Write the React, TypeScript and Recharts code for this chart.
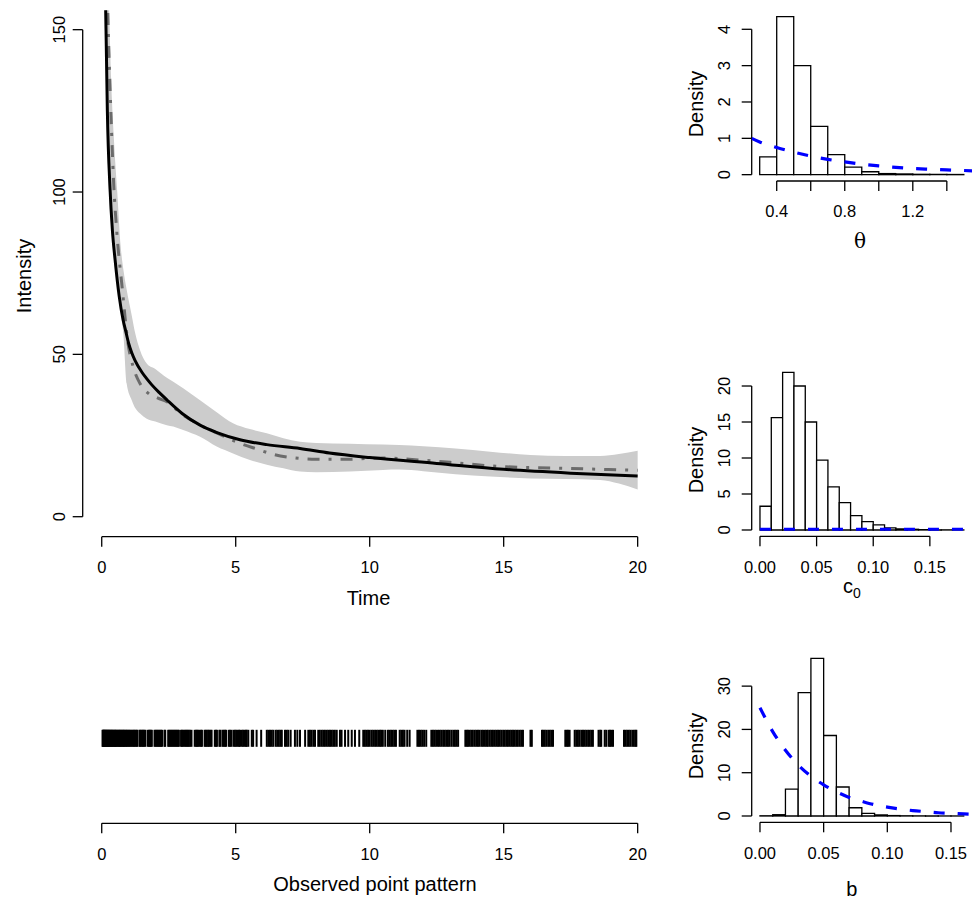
import React from 'react';
import { ComposedChart, Area, Line, Scatter, XAxis, YAxis, ReferenceLine, ReferenceArea } from 'recharts';

const FONT = '"Liberation Sans", Arial, Helvetica, sans-serif';
const TICK_FONT = 16.5;
const TITLE_FONT = 20;

// intensity: posterior band
const bandTime = [0.05, 0.1, 0.15, 0.2, 0.27, 0.35, 0.45, 0.58, 0.71, 0.81, 0.93, 1.12, 1.25, 1.43, 1.68, 2.0, 2.43, 2.67, 3.04, 3.67, 4.29, 4.9, 5.53, 6.16, 6.78, 7.4, 8.0, 9.26, 10.5, 11.1, 12.0, 13.2, 14.5, 16.0, 17.3, 18.6, 19.3, 20.0];
const bandLower = [240, 165, 138, 118, 100, 90, 80, 71, 63, 56, 41, 35.9, 33.5, 31.8, 30.2, 29.3, 28.2, 27.8, 26.7, 24.6, 21.6, 19.5, 17.5, 16.0, 14.9, 13.9, 13.7, 13.9, 14.4, 14.5, 14.0, 13.1, 12.4, 11.8, 11.6, 11.3, 10.2, 8.4];
const bandUpper = [420, 290, 210, 178, 158, 135, 117, 100, 83, 76, 70, 62, 56.5, 51.3, 47.2, 45.5, 42.8, 41.6, 39.6, 35.9, 32.2, 28.8, 27.0, 25.7, 24.2, 23.1, 22.7, 22.5, 22.2, 22.1, 21.7, 21.0, 20.0, 19.0, 18.7, 18.7, 19.3, 20.3];

// intensity: solid black curve
const fitTime = [0.05, 0.1, 0.16, 0.21, 0.31, 0.4, 0.5, 0.65, 0.8, 0.9, 1.0, 1.12, 1.25, 1.5, 1.7, 1.87, 2.15, 2.43, 3.0, 3.67, 4.3, 5.16, 6.16, 7.4, 8.5, 10, 12.5, 15, 17.5, 20];
const fitValue = [290, 190, 150, 125, 101, 88, 79, 68, 60.5, 57, 53.5, 50.5, 48, 44.5, 42.3, 40.6, 38.2, 36, 31.8, 28.2, 25.9, 23.7, 22.2, 21.0, 19.6, 18.2, 16.4, 14.6, 13.4, 12.5];

// intensity: grey dot-dash curve
const estTime = [0.1, 0.15, 0.2, 0.25, 0.3, 0.37, 0.45, 0.56, 0.77, 0.97, 1.18, 1.43, 1.74, 2.1, 2.43, 3.0, 3.5, 4.29, 5.16, 5.8, 6.4, 7.2, 8.0, 9.26, 10.0, 10.5, 11.8, 13.2, 14.6, 16.0, 17.3, 18.6, 20.0];
const estValue = [230, 190, 165, 148, 135, 118, 102, 88, 70, 54, 46, 41, 38, 36.5, 35.4, 31.5, 29, 25.8, 22.6, 20.8, 19.2, 18.1, 17.7, 17.7, 18.0, 18.1, 17.5, 16.6, 15.6, 15.1, 14.9, 14.6, 14.3];

const timeTicks = [0, 5, 10, 15, 20];
const intensityTicks = [0, 50, 100, 150];

// observed event times
const rugTimes = [
  0.03, 0.05, 0.07, 0.09, 0.11, 0.13, 0.15, 0.17, 0.2, 0.22, 0.24, 0.27, 0.29, 0.32, 0.34, 0.37, 0.39, 0.42, 0.45, 0.48,
  0.5, 0.53, 0.56, 0.59, 0.62, 0.65, 0.68, 0.71, 0.74, 0.77, 0.8, 0.83, 0.86, 0.9, 0.93, 0.96, 1.0, 1.03, 1.07, 1.11,
  1.15, 1.19, 1.22, 1.26, 1.3, 1.33, 1.41, 1.44, 1.48, 1.52, 1.55, 1.59, 1.63, 1.72, 1.76, 1.8, 1.83, 1.87, 1.97, 2.01,
  2.05, 2.09, 2.13, 2.17, 2.21, 2.25, 2.34, 2.37, 2.48, 2.52, 2.56, 2.6, 2.64, 2.68, 2.72, 2.76, 2.8, 2.84, 2.88, 2.96,
  3.0, 3.04, 3.09, 3.13, 3.17, 3.21, 3.25, 3.3, 3.35, 3.47, 3.52, 3.56, 3.6, 3.65, 3.7, 3.74, 3.84, 3.88, 3.92, 3.97,
  4.01, 4.06, 4.1, 4.22, 4.26, 4.3, 4.39, 4.43, 4.51, 4.55, 4.6, 4.64, 4.74, 4.79, 4.84, 4.92, 4.97, 5.02, 5.07, 5.12,
  5.16, 5.23, 5.28, 5.33, 5.38, 5.41, 5.47, 5.6, 5.65, 5.78, 5.95, 6.16, 6.22, 6.28, 6.34, 6.4, 6.49, 6.55, 6.61, 6.67,
  6.72, 6.84, 6.9, 6.96, 7.05, 7.21, 7.3, 7.4, 7.59, 7.71, 7.77, 7.83, 7.9, 7.96, 8.08, 8.14, 8.21, 8.27, 8.33, 8.4,
  8.46, 8.52, 8.58, 8.64, 8.7, 8.77, 8.89, 8.95, 9.08, 9.2, 9.33, 9.45, 9.61, 9.76, 9.82, 9.88, 9.94, 10.0, 10.07, 10.13,
  10.2, 10.26, 10.32, 10.38, 10.43, 10.49, 10.58, 10.68, 10.74, 10.8, 10.86, 10.92, 10.98, 11.12, 11.18, 11.24, 11.3, 11.4, 11.49, 11.78,
  11.84, 11.9, 11.96, 12.03, 12.11, 12.3, 12.36, 12.42, 12.48, 12.55, 12.61, 12.67, 12.74, 12.8, 12.86, 12.92, 12.98, 13.05, 13.12, 13.18,
  13.24, 13.3, 13.57, 13.62, 13.67, 13.73, 13.79, 13.85, 13.92, 13.98, 14.04, 14.1, 14.17, 14.23, 14.3, 14.36, 14.41, 14.48, 14.54, 14.6,
  14.67, 14.73, 14.79, 14.85, 14.91, 14.98, 15.04, 15.1, 15.16, 15.23, 15.29, 15.35, 15.41, 15.47, 15.53, 15.6, 15.66, 15.72, 16.0, 16.05,
  16.43, 16.48, 16.53, 16.59, 16.66, 16.72, 16.78, 16.84, 17.3, 17.35, 17.4, 17.46, 17.65, 17.71, 17.77, 17.83, 17.9, 17.96, 18.02, 18.08,
  18.15, 18.21, 18.27, 18.33, 18.54, 18.6, 18.64, 18.77, 18.83, 18.92, 18.97, 19.02, 19.08, 19.49, 19.55, 19.61, 19.67, 19.73, 19.8, 19.86,
  19.92, 19.95,
];

// theta posterior histogram (bin breaks, densities) and prior
const thetaBreaks = [0.3, 0.4, 0.5, 0.6, 0.7, 0.8, 0.9, 1.0, 1.1, 1.2, 1.3, 1.4, 1.5];
const thetaDensity = [0.49, 4.35, 3.0, 1.33, 0.55, 0.21, 0.08, 0.03, 0.02, 0.01, 0.01, 0.005];
const thetaPriorX = [0.253, 0.3, 0.4, 0.5, 0.6, 0.7, 0.8, 0.9, 1.0, 1.1, 1.2, 1.3, 1.4, 1.5, 1.56];
const thetaPriorY = [1.0, 0.9, 0.75, 0.62, 0.51, 0.42, 0.35, 0.29, 0.24, 0.2, 0.17, 0.15, 0.13, 0.115, 0.105];
const thetaTicks = [0.4, 0.6, 0.8, 1.0, 1.2, 1.4];
const thetaTickLabels = ['0.4', '', '0.8', '', '1.2', ''];
const thetaYTicks = [0, 1, 2, 3, 4];

// c0 posterior histogram and prior
const c0Breaks = [0, 0.01, 0.02, 0.03, 0.04, 0.05, 0.06, 0.07, 0.08, 0.09, 0.1, 0.11, 0.12, 0.13, 0.14, 0.15, 0.16, 0.17, 0.18];
const c0Density = [3.3, 15.6, 21.9, 20.0, 15.0, 9.7, 6.0, 3.8, 2.0, 1.15, 0.7, 0.3, 0.15, 0.1, 0.05, 0.03, 0.02, 0.01];
const c0PriorX = [0, 0.02, 0.04, 0.06, 0.08, 0.1, 0.12, 0.14, 0.16, 0.18, 0.19];
const c0PriorY = [0.1, 0.1, 0.1, 0.1, 0.1, 0.1, 0.1, 0.1, 0.1, 0.1, 0.1];
const c0Ticks = [0, 0.05, 0.1, 0.15];
const c0YTicks = [0, 5, 10, 15, 20];

// b posterior histogram and prior
const bBreaks = [0, 0.01, 0.02, 0.03, 0.04, 0.05, 0.06, 0.07, 0.08, 0.09, 0.1, 0.11, 0.12, 0.13, 0.14, 0.15, 0.16];
const bDensity = [0.05, 0.3, 6.2, 28.5, 36.4, 18.6, 6.7, 1.9, 0.6, 0.25, 0.1, 0.05, 0.03, 0.02, 0.01, 0.01];
const bPriorX = [0, 0.01, 0.02, 0.03, 0.04, 0.05, 0.06, 0.07, 0.08, 0.09, 0.1, 0.11, 0.12, 0.13, 0.14, 0.15, 0.16, 0.17];
const bPriorY = [25, 19.5, 15.2, 11.8, 9.2, 7.2, 5.6, 4.3, 3.4, 2.6, 2.05, 1.6, 1.25, 1.0, 0.75, 0.6, 0.47, 0.37];
const bTicks = [0, 0.05, 0.1, 0.15];
const bYTicks = [0, 10, 20, 30];

const zip = (xs: number[], ys: number[]) => xs.map((x, i) => ({ x, y: ys[i] }));

const axisLine = { stroke: '#000', strokeWidth: 1.3 };
const tickText = { fill: '#000', fontSize: TICK_FONT, fontFamily: FONT };

// R style: y tick labels are rotated and read bottom to top
const rotatedTick = (shift: number) => (props: any) => {
  const { x, y, payload } = props;
  const bx = x - shift;
  return (
    <text x={bx} y={y} transform={`rotate(-90 ${bx} ${y})`} textAnchor="middle" fontSize={TICK_FONT} fontFamily={FONT} fill="#000">
      {payload.value}
    </text>
  );
};

const RugTick = (props: any) => {
  const { cx, cy } = props;
  return <line x1={cx} x2={cx} y1={cy - 8.5} y2={cy + 8.5} stroke="#000" strokeWidth={2} />;
};

function IntensityPanel() {
  const bandRows = bandTime.map((x, i) => ({ x, band: [bandLower[i], bandUpper[i]] }));
  return (
    <ComposedChart width={680} height={640} margin={{ top: 10.2, right: 20.9, bottom: 43.3, left: 0 }}>
      <XAxis dataKey="x" type="number" domain={[-0.71, 20.8]} allowDataOverflow ticks={timeTicks} interval={0}
        axisLine={false} tickLine={axisLine} tickSize={10} tickMargin={15} tick={tickText} height={60} />
      <YAxis type="number" domain={[-6.16, 156]} allowDataOverflow ticks={intensityTicks} interval={0}
        axisLine={false} tickLine={axisLine} tickSize={10} tickMargin={2} width={82.7} tick={rotatedTick(5.7)} />
      <Area data={bandRows} dataKey="band" type="monotone" fill="#cccccc" fillOpacity={1} stroke="none" isAnimationActive={false} />
      <Line data={zip(estTime, estValue)} dataKey="y" type="monotone" stroke="#6b6b6b" strokeWidth={3}
        strokeDasharray="3 9 12 9" dot={false} isAnimationActive={false} />
      <Line data={zip(fitTime, fitValue)} dataKey="y" type="monotone" stroke="#000" strokeWidth={3}
        dot={false} isAnimationActive={false} />
      <ReferenceLine segment={[{ x: 0, y: -6.16 }, { x: 20, y: -6.16 }]} ifOverflow="visible" {...axisLine} />
      <ReferenceLine segment={[{ x: -0.71, y: 0 }, { x: -0.71, y: 150 }]} ifOverflow="visible" {...axisLine} />
    </ComposedChart>
  );
}

function RugPanel() {
  const rows = rugTimes.map((x) => ({ x, y: 0.5 }));
  return (
    <ComposedChart width={680} height={260} margin={{ top: 13.3, right: 20.9, bottom: 16.7, left: 82.7 }}>
      <XAxis dataKey="x" type="number" domain={[-0.71, 20.8]} ticks={timeTicks} interval={0}
        axisLine={false} tickLine={axisLine} tickSize={10} tickMargin={15} tick={tickText} height={60} />
      <YAxis dataKey="y" type="number" domain={[0, 1]} hide />
      <Scatter data={rows} shape={RugTick} isAnimationActive={false} />
      <ReferenceLine segment={[{ x: 0, y: 0 }, { x: 20, y: 0 }]} ifOverflow="visible" {...axisLine} />
    </ComposedChart>
  );
}

interface HistProps {
  breaks: number[];
  density: number[];
  priorX: number[];
  priorY: number[];
  xDomain: [number, number];
  yDomain: [number, number];
  xTicks: number[];
  xLabel: (v: number) => string;
  yTicks: number[];
  top: number;
  bottom: number;
  tickMargin: number;
}

const Y_AXIS_W = 71.7;
const X_AXIS_H = 60;

function HistPanel(p: HistProps) {
  const xEnd = p.xTicks[p.xTicks.length - 1];
  const yEnd = p.yTicks[p.yTicks.length - 1];
  return (
    <div style={{ position: 'relative', width: 296, height: 300 }}>
      <div style={{ position: 'absolute', left: 0, top: 0 }}>
        <ComposedChart width={296} height={300} margin={{ top: p.top, right: 4, bottom: p.bottom, left: 0 }}>
          <XAxis dataKey="x" type="number" domain={p.xDomain} allowDataOverflow ticks={p.xTicks} interval={0}
            tickFormatter={p.xLabel} axisLine={false} tickLine={axisLine} tickSize={10} tickMargin={p.tickMargin}
            tick={tickText} height={X_AXIS_H} />
          <YAxis type="number" domain={p.yDomain} allowDataOverflow ticks={p.yTicks} interval={0}
            axisLine={false} tickLine={axisLine} tickSize={10} tickMargin={2} width={Y_AXIS_W} tick={rotatedTick(9.7)} />
          {p.density.map((d, i) => (
            <ReferenceArea key={i} x1={p.breaks[i]} x2={p.breaks[i + 1]} y1={0} y2={d}
              fill="#fff" fillOpacity={1} stroke="#000" strokeWidth={1.3} ifOverflow="visible" />
          ))}
          <ReferenceLine segment={[{ x: p.xTicks[0], y: p.yDomain[0] }, { x: xEnd, y: p.yDomain[0] }]} ifOverflow="visible" {...axisLine} />
          <ReferenceLine segment={[{ x: p.xDomain[0], y: 0 }, { x: p.xDomain[0], y: yEnd }]} ifOverflow="visible" {...axisLine} />
        </ComposedChart>
      </div>
      {/* prior density drawn on top of the bars, same plot box and domains */}
      <div style={{ position: 'absolute', left: 0, top: 0 }}>
        <ComposedChart width={296} height={300}
          margin={{ top: p.top, right: 4, bottom: p.bottom + X_AXIS_H, left: Y_AXIS_W }}>
          <XAxis dataKey="x" type="number" domain={p.xDomain} allowDataOverflow hide />
          <YAxis type="number" domain={p.yDomain} allowDataOverflow hide />
          <Line data={zip(p.priorX, p.priorY)} dataKey="y" type="monotone" stroke="#0000ff" strokeWidth={3.2}
            strokeDasharray="11 13" dot={false} isAnimationActive={false} />
        </ComposedChart>
      </div>
    </div>
  );
}

export default function App() {
  const titleStyle = { fontFamily: FONT, fontSize: TITLE_FONT, fill: '#000' };
  return (
    <div style={{ position: 'absolute', left: 0, top: 0, width: 976, height: 900, background: '#fff', overflow: 'hidden' }}>
      <div style={{ position: 'absolute', left: 0, top: 0 }}>
        <IntensityPanel />
      </div>
      <div style={{ position: 'absolute', left: 0, top: 640 }}>
        <RugPanel />
      </div>
      <div style={{ position: 'absolute', left: 680, top: 0 }}>
        <HistPanel breaks={thetaBreaks} density={thetaDensity} priorX={thetaPriorX} priorY={thetaPriorY}
          xDomain={[0.253, 1.548]} yDomain={[-0.174, 4.524]} xTicks={thetaTicks}
          xLabel={(v) => thetaTickLabels[thetaTicks.indexOf(v)] ?? ''} yTicks={thetaYTicks}
          top={10.25} bottom={59} tickMargin={14} />
      </div>
      <div style={{ position: 'absolute', left: 680, top: 300 }}>
        <HistPanel breaks={c0Breaks} density={c0Density} priorX={c0PriorX} priorY={c0PriorY}
          xDomain={[-0.0073, 0.1872]} yDomain={[-0.876, 22.78]} xTicks={c0Ticks}
          xLabel={(v) => v.toFixed(2)} yTicks={c0YTicks}
          top={66} bottom={3.7} tickMargin={15} />
      </div>
      <div style={{ position: 'absolute', left: 680, top: 600 }}>
        <HistPanel breaks={bBreaks} density={bDensity} priorX={bPriorX} priorY={bPriorY}
          xDomain={[-0.0065, 0.1665]} yDomain={[-1.456, 37.86]} xTicks={bTicks}
          xLabel={(v) => v.toFixed(2)} yTicks={bYTicks}
          top={52.1} bottom={17.7} tickMargin={15} />
      </div>
      <svg width={976} height={900} style={{ position: 'absolute', left: 0, top: 0, pointerEvents: 'none' }}>
        <text x={31} y={276} transform="rotate(-90 31 276)" textAnchor="middle" {...titleStyle}>Intensity</text>
        <text x={368.5} y={605} textAnchor="middle" {...titleStyle}>Time</text>
        <text x={375} y={891} textAnchor="middle" {...titleStyle}>Observed point pattern</text>
        <text x={702.6} y={104} transform="rotate(-90 702.6 104)" textAnchor="middle" {...titleStyle}>Density</text>
        <text x={702.6} y={460} transform="rotate(-90 702.6 460)" textAnchor="middle" {...titleStyle}>Density</text>
        <text x={702.6} y={746} transform="rotate(-90 702.6 746)" textAnchor="middle" {...titleStyle}>Density</text>
        <text x={860} y={248} textAnchor="middle" fontFamily='"DejaVu Serif", "Liberation Serif", serif' fontSize={20} fill="#000">θ</text>
        <text x={843} y={593.3} {...titleStyle}>c<tspan dy={4.4} fontSize={14}>0</tspan></text>
        <text x={851.7} y={895.5} textAnchor="middle" {...titleStyle}>b</text>
      </svg>
    </div>
  );
}
